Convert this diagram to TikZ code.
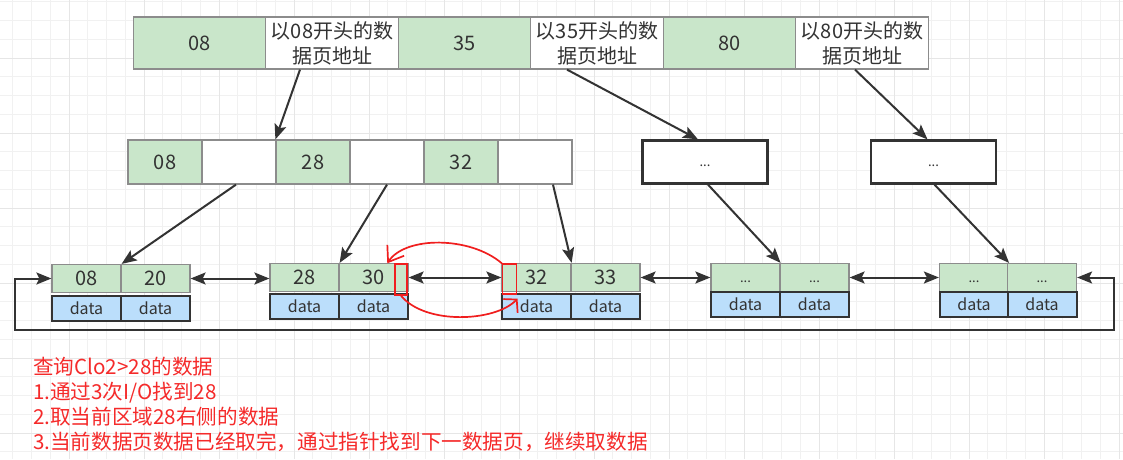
\documentclass[tikz,border=0pt]{standalone}
\usepackage{fontspec}
\setmainfont{Noto Sans CJK SC}
\usetikzlibrary{arrows.meta}

\definecolor{keygreen}{HTML}{C9E6CA}
\definecolor{datablue}{HTML}{BBDEFB}
\definecolor{cellline}{HTML}{8C8C8C}
\definecolor{inkgray}{HTML}{333333}
\definecolor{noteRed}{HTML}{F52A2A}
\definecolor{penred}{HTML}{F01E1E}
\definecolor{gridminor}{HTML}{F1F1F1}
\definecolor{gridmajor}{HTML}{E6E6E6}

\begin{document}
\begin{tikzpicture}[x=1pt,y=-1pt,
  every node/.style={inner sep=0pt,text=inkgray},
  cellbase/.style={draw=cellline,line width=1.2pt},
  topkey/.style={cellbase,fill=keygreen,minimum width=132.5,minimum height=52,font=\fontsize{20}{25}\selectfont},
  topaddr/.style={topkey,fill=white,align=center},
  midkey/.style={cellbase,fill=keygreen,minimum width=74,minimum height=44,font=\fontsize{20}{22}\selectfont},
  midaddr/.style={midkey,fill=white},
  dotsbox/.style={draw=inkgray,line width=2.2pt,fill=white,minimum width=125,minimum height=43,font=\fontsize{13}{15}\selectfont},
  leafkey/.style={cellbase,fill=keygreen,minimum width=69,minimum height=28,font=\fontsize{20}{21}\selectfont},
  leafdots/.style={leafkey,font=\fontsize{13}{15}\selectfont},
  datacell/.style={draw=inkgray,line width=2pt,fill=datablue,minimum width=69,minimum height=25,font=\fontsize{16}{18}\selectfont},
  link/.style={draw=inkgray,line width=2pt,-{Stealth[length=15pt,width=12pt,inset=3pt]}},
  twoway/.style={link,{Stealth[length=15pt,width=12pt,inset=3pt]}-{Stealth[length=15pt,width=12pt,inset=3pt]}},
  redbox/.style={draw=penred,line width=1.4pt},
  redpen/.style={draw=penred,line width=1.7pt,line cap=round,line join=round},
  notetext/.style={text=noteRed,align=left,font=\fontsize{20.6}{25}\selectfont}]
\useasboundingbox (0,0) rectangle (1123,459);
\fill[white] (0,0) rectangle (1123,459);
% background grid
\foreach \gx in {12.7,31.45,...,1123} \draw[gridminor,line width=0.8pt] (\gx,0) -- (\gx,459);
\foreach \gy in {1.7,20.45,...,459} \draw[gridminor,line width=0.8pt] (0,\gy) -- (1123,\gy);
\foreach \gx in {68.95,143.95,...,1123} \draw[gridmajor,line width=0.8pt] (\gx,0) -- (\gx,459);
\foreach \gy in {57.95,132.95,...,459} \draw[gridmajor,line width=0.8pt] (0,\gy) -- (1123,\gy);

% root page
\node[topkey] (t1) at (199.5,43) {08};
\node[topaddr] (t2) at (332,43) {以08开头的数\\据页地址};
\node[topkey] (t3) at (464.5,43) {35};
\node[topaddr] (t4) at (597,43) {以35开头的数\\据页地址};
\node[topkey] (t5) at (729.5,43) {80};
\node[topaddr] (t6) at (862,43) {以80开头的数\\据页地址};

% second level
\node[midkey] (m1) at (165,162) {08};
\node[midaddr] (m2) at (239,162) {};
\node[midkey] (m3) at (313,162) {28};
\node[midaddr] (m4) at (387,162) {};
\node[midkey] (m5) at (461,162) {32};
\node[midaddr] (m6) at (535,162) {};
\node[dotsbox] (d1) at (705,162) {\vphantom{0}...};
\node[dotsbox] (d2) at (933.5,162) {\vphantom{0}...};

% leaf pages
\node[leafkey] (l1a) at (86.5,278.5) {08};
\node[leafkey] (l1b) at (155.5,278.5) {20};
\node[datacell] (l1c) at (86.5,308) {data};
\node[datacell] (l1d) at (155.5,308) {data};
\node[leafkey] (l2a) at (304.5,277.5) {28};
\node[leafkey] (l2b) at (373.5,277.5) {30};
\node[datacell] (l2c) at (304.5,306) {data};
\node[datacell] (l2d) at (373.5,306) {data};
\node[leafkey] (l3a) at (536.5,277.5) {32};
\node[leafkey] (l3b) at (605.5,277.5) {33};
\node[datacell] (l3c) at (536.5,306) {data};
\node[datacell] (l3d) at (605.5,306) {data};
\node[leafdots] (l4a) at (745.5,277.5) {\vphantom{0}...};
\node[leafdots] (l4b) at (814.5,277.5) {\vphantom{0}...};
\node[datacell] (l4c) at (745.5,304) {data};
\node[datacell] (l4d) at (814.5,304) {data};
\node[leafdots] (l5a) at (974,277.5) {\vphantom{0}...};
\node[leafdots] (l5b) at (1042,277.5) {\vphantom{0}...};
\node[datacell] (l5c) at (974,304) {data};
\node[datacell] (l5d) at (1042,304) {data};

% pointers
\draw[link] ([xshift=-32]t2.south) -- (m3.north west);
\draw[link] ([xshift=-30]t4.south) -- ([xshift=-7]d1.north);
\draw[link] ([xshift=-7]t6.south) -- ([xshift=-6]d2.north);
\draw[link] ([xshift=-3]m2.south) -- (l1a.north east);
\draw[link] (m4.south) -- (l2a.north east);
\draw[link] ([xshift=18]m6.south) -- (l3a.north east);
\draw[link] ([xshift=3]d1.south) -- (l4a.north east);
\draw[link] ([xshift=1]d2.south) -- (l5a.north east);

% leaf chain
\draw[twoway] (l1b.east) -- (l2a.west |- l1b.east);
\draw[twoway] (l2b.east) -- (l3a.west);
\draw[twoway] (l3b.east) -- (l4a.west);
\draw[twoway] (l4b.east) -- (l5a.west);
\coordinate (loopse) at (1114,330);
\coordinate (loopsw) at (15,330);
\draw[twoway] (l5b.east) -| (loopse) -- (loopsw) |- (l1a.west);

% red marks
\node[redbox,minimum width=12,minimum height=31] (ra) at (401,279.5) {};
\node[redbox,minimum width=14,minimum height=30] (rb) at (509.5,279) {};
\draw[redpen,-{Straight Barb[length=14pt,width=20pt]}] (rb.north west) .. controls (470,236) and (405,236) .. ([xshift=-7]ra.north west);
\draw[redpen,-{Straight Barb[length=9pt,width=20pt]}] (ra.south) .. controls (425,325) and (495,322) .. ([xshift=8pt,yshift=-4pt]rb.south);

\node[notetext,anchor=north west] (note) at (33,357) {查询Clo2>28的数据\\1.通过3次I/O找到28\\2.取当前区域28右侧的数据\\3.当前数据页数据已经取完，通过指针找到下一数据页，继续取数据};
\end{tikzpicture}
\end{document}
